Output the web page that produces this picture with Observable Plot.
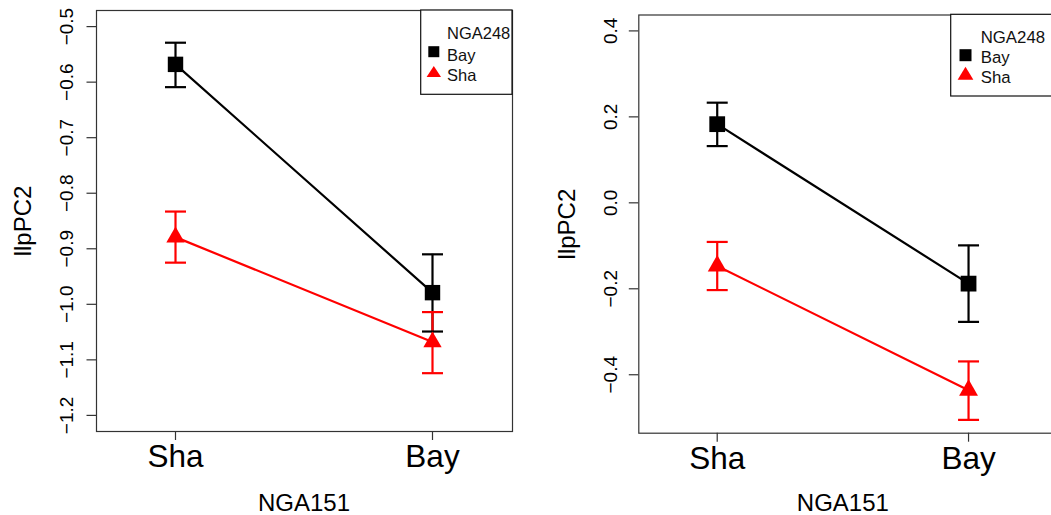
<!DOCTYPE html>
<html>
<head>
<meta charset="utf-8">
<script src="https://cdn.jsdelivr.net/npm/d3@7"></script>
<script src="https://cdn.jsdelivr.net/npm/@observablehq/plot@0.6"></script>
<style>
  html, body { margin: 0; padding: 0; background: #fff; overflow: hidden; }
  #wrap { position: relative; width: 1051px; height: 515px; overflow: hidden; background: #fff; }
  .panel { position: absolute; top: 0; }
  .panel svg { display: block; overflow: visible; max-width: none !important; height: 515px !important; }
</style>
</head>
<body>
<div id="wrap">
  <div class="panel" id="left" style="left:0px;width:520px"></div>
  <div class="panel" id="right" style="left:520px;width:545px"></div>
</div>
<script>
// ---- categories ----
const nga151 = ["Sha", "Bay"];           // x-axis factor levels
const nga248 = ["Bay", "Sha"];           // trace factor levels (legend order)
const xLabel = "NGA151";
const yLabel = "llpPC2";
const legendTitle = "NGA248";

// ---- left panel values (mean, lower, upper) per NGA151 level ----
const leftBayMean = [-0.568, -0.979];
const leftBayLow  = [-0.609, -1.049];
const leftBayHigh = [-0.529, -0.910];
const leftShaMean = [-0.879, -1.068];
const leftShaLow  = [-0.925, -1.124];
const leftShaHigh = [-0.833, -1.014];
const leftTicks = [-1.2, -1.1, -1.0, -0.9, -0.8, -0.7, -0.6, -0.5];

// ---- right panel values ----
const rightBayMean = [0.183, -0.188];
const rightBayLow  = [0.132, -0.277];
const rightBayHigh = [0.233, -0.099];
const rightShaMean = [-0.147, -0.436];
const rightShaLow  = [-0.203, -0.505];
const rightShaHigh = [-0.091, -0.369];
const rightTicks = [-0.4, -0.2, 0.0, 0.2, 0.4];

const colors = {Bay: "#000000", Sha: "#ff0000"};
const FONT = "'Liberation Sans', Arial, Helvetica, sans-serif";

function rows(series) {
  const out = [];
  for (const [trace, mean, lo, hi] of series) {
    nga151.forEach((lvl, i) => out.push({trace, level: lvl, x: i + 1, mean: mean[i], lo: lo[i], hi: hi[i]}));
  }
  return out;
}

const capSymbol = {
  draw(context, size) {
    const r = Math.sqrt(size / Math.PI);
    context.moveTo(-r, 0);
    context.lineTo(r, 0);
  }
};

function makePanel(cfg) {
  const data = cfg.data;
  const stroke = d => colors[d.trace];
  const svg = Plot.plot({
    width: cfg.width,
    height: 515,
    marginLeft: cfg.marginLeft,
    marginRight: cfg.marginRight,
    marginTop: cfg.marginTop,
    marginBottom: cfg.marginBottom,
    style: {fontFamily: FONT, color: "#000", background: "transparent", overflow: "visible"},
    x: {domain: cfg.xDomain},
    y: {domain: cfg.yDomain},
    marks: [
      Plot.frame({stroke: "#333", strokeWidth: 1.2}),
      Plot.axisY({
        ticks: cfg.yTicks, tickFormat: d3.format(".1f"), tickRotate: -90,
        textAnchor: "middle", lineAnchor: "bottom",
        tickSize: 9.5, tickPadding: cfg.tickPadY, fontSize: 19, label: null,
        stroke: "#333", strokeWidth: 1.2
      }),
      Plot.axisX({
        ticks: nga151.map((d, i) => i + 1), tickFormat: v => nga151[v - 1],
        tickSize: 9, tickPadding: 4.3, fontSize: 31.5, label: null,
        stroke: "#333", strokeWidth: 1.2
      }),
      Plot.line(data, {x: "x", y: "mean", z: "trace", stroke, strokeWidth: 2.2}),
      Plot.ruleX(data, {x: "x", y1: "lo", y2: "hi", stroke, strokeWidth: 2.2}),
      Plot.dot(data, {x: "x", y: "lo", symbol: capSymbol, r: 10.5, stroke, strokeWidth: 2.2, fill: "none"}),
      Plot.dot(data, {x: "x", y: "hi", symbol: capSymbol, r: 10.5, stroke, strokeWidth: 2.2, fill: "none"}),
      Plot.dot(data.filter(d => d.trace === "Bay"), {x: "x", y: "mean", symbol: "square", r: cfg.sqR, fill: stroke, stroke: "none"}),
      Plot.dot(data.filter(d => d.trace === "Sha"), {x: "x", y: "mean", symbol: "triangle", r: cfg.triR, fill: stroke, stroke: "none"}),
      Plot.text([yLabel], {frameAnchor: "left", text: d => d, rotate: -90, lineAnchor: "bottom", textAnchor: "middle", dx: cfg.ylabDx, fontSize: 24, fill: "#000"}),
      Plot.text([xLabel], {x: d3.mean(nga151, (d, i) => i + 1), frameAnchor: "bottom", text: d => d, lineAnchor: "bottom", dy: cfg.xlabDy, fontSize: 24, fill: "#000"})
    ]
  });

  // legend (R-style boxed legend, top-right inside plot)
  const L = cfg.legend;
  const g = d3.select(svg).append("g")
    .attr("font-family", FONT).attr("font-size", L.fontSize).attr("text-anchor", "start");
  g.append("rect").attr("x", L.x).attr("y", L.y).attr("width", L.w).attr("height", L.h)
    .attr("fill", "#fff").attr("stroke", "#111").attr("stroke-width", 1.2);
  g.append("text").attr("x", L.tx).attr("y", L.titleY).attr("fill", "#111").attr("text-anchor", "start").text(legendTitle);
  nga248.forEach((lvl, i) => {
    const by = L.itemY[i];
    g.append("text").attr("x", L.tx).attr("y", by).attr("fill", "#111").attr("text-anchor", "start").text(lvl);
    const cy = L.symY[i];
    if (lvl === "Bay") {
      g.append("rect").attr("x", L.sx - L.sq / 2).attr("y", cy - L.sq / 2)
        .attr("width", L.sq).attr("height", L.sq).attr("fill", colors[lvl]);
    } else {
      const w = L.triW, h = L.triH;
      g.append("path").attr("d", `M${L.sx},${cy - h / 2}L${L.sx + w / 2},${cy + h / 2}L${L.sx - w / 2},${cy + h / 2}Z`)
        .attr("fill", colors[lvl]);
    }
  });
  return svg;
}

const leftData = rows([
  ["Bay", leftBayMean, leftBayLow, leftBayHigh],
  ["Sha", leftShaMean, leftShaLow, leftShaHigh]
]);
const rightData = rows([
  ["Bay", rightBayMean, rightBayLow, rightBayHigh],
  ["Sha", rightShaMean, rightShaLow, rightShaHigh]
]);

document.getElementById("left").append(makePanel({
  data: leftData,
  width: 520, marginLeft: 96, marginRight: 8, marginTop: 10, marginBottom: 84,
  xDomain: [0.6926, 2.3113], yDomain: [-1.229, -0.471], yTicks: leftTicks,
  tickPadY: 14, ylabDx: -66, xlabDy: 79, sqR: 8.7, triR: 6.8,
  legend: {x: 420.7, y: 10, w: 91.3, h: 84.3, tx: 447, titleY: 39, itemY: [61, 81],
           symY: [51.7, 71.5], sx: 433.8, sq: 11, triW: 14.4, triH: 11, fontSize: 16.5}
}));

document.getElementById("right").append(makePanel({
  data: rightData,
  width: 545, marginLeft: 118.3, marginRight: 10, marginTop: 14.5, marginBottom: 82.3,
  xDomain: [0.688, 2.346], yDomain: [-0.536, 0.437], yTicks: rightTicks,
  tickPadY: 12.5, ylabDx: -64, xlabDy: 77.3, sqR: 8.9, triR: 7,
  legend: {x: 430.7, y: 14.3, w: 140, h: 81.7, tx: 460.7, titleY: 43, itemY: [63.3, 83.3],
           symY: [55.2, 73.3], sx: 445.5, sq: 12, triW: 15.7, triH: 13, fontSize: 16.8}
}));
</script>
</body>
</html>
